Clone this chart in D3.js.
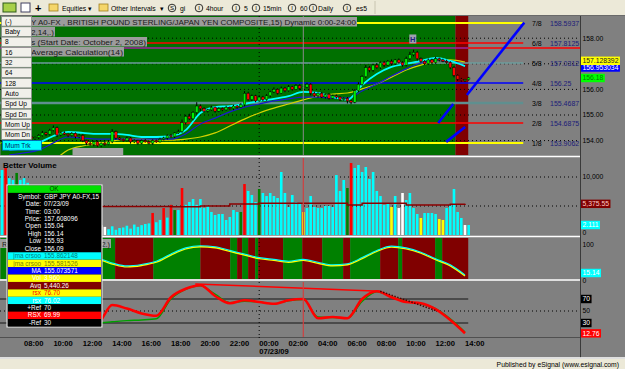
<!DOCTYPE html>
<html>
<head>
<meta charset="utf-8">
<script src="https://cdn.jsdelivr.net/npm/d3@7/dist/d3.min.js"></script>
<style>
  body { margin: 0; background: #808080; overflow: hidden; }
  text { font-family: "Liberation Sans", Arial, sans-serif; }
</style>
</head>
<body>
<svg id="chart" width="625" height="369"></svg>
<script>
// ---------- data (GBP JPY A0-FX, 15 min) ----------
// hour 0 = 07/23/09 00:00, bars start 07/22 06:30
const hours = d3.range(-17, 15);
const timeTicks = d3.range(-16, 15, 2);

const firstOpen = 153.9;
const closes = [
  153.95, 154.02, 153.92, 154.05, 154.0, 154.1, 154.05, 154.15, 154.08, 154.12,
  154.2, 154.3, 154.25, 154.4, 154.5, 154.22,
  154.3, 154.25, 154.2, 154.28, 154.15, 154.2,
  154.0, 153.9, 153.85, 153.95, 153.8, 153.9, 153.85, 153.95,
  154.35,
  154.1, 154.05, 154.0, 154.1, 153.95, 154.0, 153.9, 154.0, 153.95, 153.9, 154.0, 153.95, 154.05,
  154.1, 154.2, 154.15, 154.3, 154.35,
  154.7, 154.95, 154.85, 155.1,
  155.35, 155.25, 155.15,
  155.2, 155.3, 155.15, 155.25, 155.2, 155.3, 155.25,
  155.35, 155.3, 155.4,
  155.85,
  155.6, 155.75, 155.55, 155.7, 155.6, 155.75,
  155.9, 156.0, 155.85, 156.05, 155.95, 156.1, 156.0, 156.15,
  156.04, 156.09, 156.2, 155.85,
  155.75, 155.85, 155.7, 155.8, 155.65, 155.75, 155.7, 155.6, 155.65, 155.55,
  155.5,
  155.95, 156.2, 156.5,
  156.85, 156.75,
  156.95, 156.85, 157.05, 156.95, 157.1, 157.0, 157.15, 157.05, 156.95, 157.2,
  157.35, 157.45, 157.2,
  157.1, 157.0, 157.15, 157.05, 157.2, 157.15, 157.1, 157.05,
  156.85, 156.55, 156.4, 156.35, 156.38, 156.45
];
// wick lengths in pips above / below the body
const wickHi = [6,4,5,8,3,6,4,7,5,4, 5,8,4,6,9,5, 4,6,3,5,4,6, 5,3,6,4,5,3,6,4, 10,
  4,5,3,6,4,5,3,4,6,3,5,4,6, 5,4,6,3,8, 12,6,10,5, 15,6,5, 4,6,3,5,4,6,3, 5,4,6, 8,
  6,5,4,7,5,6, 5,8,4,6,5,7,4,6, 5,5,6,4, 6,4,5,3,6,4,5,3,4,5, 4, 6,8,5, 10,6,
  5,8,4,6,5,7,4,6,5,8, 12,10,6, 5,4,6,5,7,4,5,6, 5,6,4,5,3,4];
const wickLo = [4,6,5,3,7,4,6,3,5,6, 6,4,7,5,4,8, 5,3,6,4,7,5, 6,8,5,7,4,6,5,3, 5,
  6,3,5,4,7,5,6,4,3,5,6,4,3, 4,6,3,5,4, 5,8,4,6, 6,9,5, 5,3,6,4,5,3,4, 6,5,3, 6,
  4,6,5,3,6,4, 6,4,5,3,6,4,5,3, 6,5,4,8, 5,7,4,6,5,3,6,5,4,10, 8, 4,5,6, 5,8,
  6,4,5,7,3,6,5,4,6,5, 5,6,8, 6,5,4,7,5,6,4,5, 6,8,7,5,6,4];

// moving averages, hourly
const jmaFast = [153.63,153.71,153.91,154.18,154.34,154.30,154.26,154.26,154.22,154.14,154.14,154.18,
  154.41,155.08,155.31,155.35,155.43,155.55,155.63,155.74,155.90,155.86,155.70,155.59,156.17,156.60,
  156.88,157.00,157.11,157.23,157.11,156.91];
const maBlue = [153.44,153.52,153.63,153.91,154.14,154.10,154.06,154.06,154.06,154.06,154.06,154.06,
  154.26,154.65,154.88,155.12,155.31,155.43,155.55,155.63,155.70,155.70,155.66,155.66,155.94,156.21,
  156.52,156.80,157.03,157.11,157.11,156.91];
const jmaSlow = [152.9,153.0,153.1,153.24,153.63,153.79,153.87,153.98,154.06,154.06,154.02,154.02,
  154.06,154.14,154.30,154.57,154.84,155.08,155.27,155.43,155.59,155.74,155.82,155.86,156.02,156.21,
  156.48,156.76,156.95,157.07,157.15,157.07];

// Murrey math levels
const murreyLabels = ['7/8', '6/8', '5/8', '4/8', '3/8', '2/8', '1/8'];
const murreyLevels = [158.5937, 157.8125, 157.0312, 156.25, 155.4687, 154.6875, 153.9062];
const murreyText = ['158.5937', '157.8125', '157.0312', '156.25', '155.4687', '154.6875', '153.9062'];
const murreyColors = ['#ffff00', '#ff0000', '#6d9c9c', '#0000ff', '#5f8f8f', '#ff0000', '#ffff00'];
const murreyWidths = [2, 1.5, 1.5, 1.5, 2.5, 1.5, 2];
const priceTicks = [154, 155, 156, 158];
// projected channel segments [hour, price, hour, price]
const channel = [[14.13, 155.78, 18.03, 158.61], [12.18, 154.69, 13.2, 155.43], [12.72, 153.95, 14.01, 154.53]];

// Better Volume
const volumes = [11200, 11550, 9800, 9500, 10700, 9500, 9800, 9000,
  6500, 5200, 4800, 7000, 5500, 6200, 8000, 4500, 5000, 3800, 4200, 5600, 3500, 4000, 3300, 4700, 3000, 3600, 2800,
  1700, 1400, 1000, 1500, 900, 1200, 1300, 1600, 1100, 1800, 1400, 1700, 1900, 2000, 3800, 2200, 2600, 4650,
  3000, 5200, 4300, 4300, 8100, 5200, 5700, 6200, 5200,
  6200, 4650, 5000, 3970, 3450, 3620, 3620, 2590, 3100, 4310, 3970, 3970, 8790, 7590, 6900, 5690, 7930,
  7240, 6720, 7240, 6720, 6380, 10860, 7240, 4830, 6900, 5690, 5520, 3960, 4650, 6720, 4830, 4650, 4650,
  5000, 5000, 4830, 10340, 7590, 9480, 8100, 12410, 11550, 12070, 10860, 11720, 9650, 10860, 7590, 6720,
  5170, 5520, 4830, 6720, 4650, 7240, 6030, 7240, 4650, 3620, 2930, 3790, 3790, 3790, 3620, 2760, 2590,
  4650, 5170, 7930, 3970, 2930, 1720, 1720];
const volColors = 'crccgccc' + 'ccrccgcccrccccgcccc' + 'wwccccccccccccrccrcrgcrcccc' +
  'ccccccccccc' + 'g' + 'r' + 'ccc' + 'g' + 'ccccccccccc' + 'y' + 'ccccccccccc' + 'g' + 'r' +
  'cccccccccc' + 'y' + 'c' + 'ww' + 'cccc' + 'y' + 'cccc' + 'yy' + 'ccccc' + 'w' + 'c';
const volAvg = [4900,4900,4900,4900,4900,4900,4900,4900,4900,4900,4900,4850,4850,5000,5000,5350,5350,
  5470,5470,5470,5470,5470,5470,5170,5470,5470,5470,5170,5170,5170,5300,5375];

// RSX crossover pane (hourly) and band states
const midVals = [60,70,75,70,60,55,62,50,42,46,55,75,92,98,95,85,75,65,60,55,60,52,45,48,65,85,97,92,80,62,45,17];
const midBandEdges = [-17.6, -9.8, -7.2, -4.0, -1.97, -1.5, -1.16, -0.75, -0.27, -0.07, 1.63, 2.93,
  4.29, 5.71, 6.19, 8.23, 9.46, 9.73, 11.97, 12.45, 14.22];

// RSX pane (hourly)
const rsxVals = [40,58,62,55,45,38,30,60,54,46,42,73,87,93,75,63,68,65,62,68,70,38,40,38,70,83,73,65,63,53,35,13];
const rsxSlow = [38,50,55,52,45,38,30,32,34,35,37,70,86,92,78,64,66,65,62,67,69,40,39,38,66,82,74,66,62,54,37,15];
const rsxTrend = [[-4.35, 95, 8.23, 83]];
const rsxTrendDot = [[8.23, 83, 12.1, 50]];

// data window
const dwRows = [
  ['OK', '', '#00e000', '#004000'],
  ['Symbol:', 'GBP JPY A0-FX,15', '#000', '#fff'],
  ['Date:', '07/23/09', '#000', '#fff'],
  ['Time:', '03:00', '#000', '#fff'],
  ['Price:', '157.608096', '#000', '#fff'],
  ['Open', '155.04', '#000', '#fff'],
  ['High', '156.14', '#000', '#fff'],
  ['Low', '155.93', '#000', '#fff'],
  ['Close', '156.09', '#000', '#fff'],
  ['jma crsoo', '155.862148', '#00ffff', '#008080'],
  ['jma crsoo', '155.581526', '#ffff00', '#808000'],
  ['MA', '155.073571', '#0000ff', '#ffffff'],
  ['Vol', '3,960', '#ffff00', '#ffffff'],
  ['Avg', '5,440.26', '#800000', '#ffffff'],
  ['rsx', '76.70', '#ffff00', '#ff0000'],
  ['rsx', '76.02', '#00ffff', '#ffffff'],
  ['+Ref', '70', '#000000', '#ffffff'],
  ['RSX', '69.99', '#ff0000', '#ffffff'],
  ['-Ref', '30', '#000000', '#ffffff']
];
const buttons = ['(-)', 'Baby', '8', '16', '32', '64', '128', 'Auto', 'Spd Up', 'Spd Dn', 'Mom Up', 'Mom Dn'];

// ---------- layout ----------
const svg = d3.select('#chart');
const AX = 580;
const P = { top: 16, bot: 155 }, V = { top: 158, bot: 235 }, M = { top: 238, bot: 279 }, R = { top: 282, bot: 337 };
const GREEN = '#007000', DRED = '#800000';

const base = new Date(2009, 6, 23, 0, 0).getTime();
const at = h => new Date(base + h * 36e5);
const x = d3.scaleTime().domain([at(-16), at(14)]).range([24, 465]);
const xh = h => x(at(h));
const yP = d3.scaleLinear().domain([154, 158]).range([140.6, 38.2]);
const yV = d3.scaleLinear().domain([0, 10000]).range([235, 177]);
const yM = d3.scaleLinear().domain([0, 100]).range([281, 245]);
const yR = d3.scaleLinear().domain([0, 100]).range([341, 281]);

const defs = svg.append('defs');
function clip(id, p) {
  defs.append('clipPath').attr('id', id).append('rect')
    .attr('x', 0).attr('y', p.top).attr('width', AX).attr('height', p.bot - p.top);
  return svg.append('g').attr('clip-path', `url(#${id})`);
}
function hline(g, y, x0, x1, color, w, dash) {
  g.append('line').attr('x1', x0).attr('x2', x1).attr('y1', y).attr('y2', y)
    .attr('stroke', color).attr('stroke-width', w || 1).attr('stroke-dasharray', dash || null);
}
function vline(g, xx, y0, y1, color, w, dash) {
  g.append('line').attr('x1', xx).attr('x2', xx).attr('y1', y0).attr('y2', y1)
    .attr('stroke', color).attr('stroke-width', w || 1).attr('stroke-dasharray', dash || null);
}
function label(g, txt, xx, y, bg, fg, size) {
  size = size || 6.8;
  const t = g.append('text').attr('x', xx + 1.5).attr('y', y + size * 0.36)
    .attr('font-size', size).attr('fill', fg || '#000').text(txt);
  if (bg) {
    const w = t.node().getComputedTextLength() + 3;
    g.insert('rect', () => t.node()).attr('x', xx).attr('y', y - size * 0.62)
      .attr('width', w).attr('height', size * 1.24).attr('fill', bg);
  }
}

svg.append('rect').attr('width', 625).attr('height', 369).attr('fill', '#808080');

// ---------- price pane ----------
const gp = clip('cp', P);
gp.append('rect').attr('x', xh(-17.6)).attr('y', P.top).attr('width', xh(13.35) - xh(-17.6))
  .attr('height', P.bot - P.top).attr('fill', GREEN);
gp.append('rect').attr('x', xh(13.35)).attr('y', P.top).attr('width', xh(14.22) - xh(13.35))
  .attr('height', P.bot - P.top).attr('fill', DRED);
[154, 155, 156, 157, 158].forEach(p => hline(gp, yP(p), 0, AX, '#000', 1, '1,3'));
vline(gp, xh(0), P.top, P.bot, '#000', 1, '1,3');

murreyLevels.forEach((p, i) => {
  hline(gp, yP(p), 0, xh(17.96), murreyColors[i], murreyWidths[i]);
  gp.append('text').attr('x', 532).attr('y', yP(p) + 2.5).attr('font-size', 7).attr('fill', '#000').text(murreyLabels[i]);
  gp.append('text').attr('x', 550).attr('y', yP(p) + 2.5).attr('font-size', 7).attr('fill', '#1c1c78').text(murreyText[i]);
});
hline(gp, yP(157.62), 0, xh(14.22), '#a020a0', 1.5);
hline(gp, yP(157.62), xh(14.22), AX, '#ff0000', 1.5);

const lineP = d3.line().x((d, i) => xh(hours[i])).y(d => yP(d)).curve(d3.curveMonotoneX);
gp.append('path').datum(jmaSlow).attr('d', lineP).attr('fill', 'none').attr('stroke', '#d2d200').attr('stroke-width', 1.2);
gp.append('path').datum(maBlue).attr('d', lineP).attr('fill', 'none').attr('stroke', '#1a1ad0').attr('stroke-width', 1.2);
gp.append('path').datum(jmaFast).attr('d', lineP).attr('fill', 'none').attr('stroke', '#00ffff').attr('stroke-width', 1.8);

const bars = closes.map((c, i) => {
  const o = i ? closes[i - 1] : firstOpen;
  return { h: -17.5 + i * 0.25, o, c, hi: Math.max(o, c) + wickHi[i] / 100, lo: Math.min(o, c) - wickLo[i] / 100 };
});
const cg = gp.append('g');
cg.selectAll('line').data(bars).join('line')
  .attr('x1', d => xh(d.h)).attr('x2', d => xh(d.h))
  .attr('y1', d => yP(d.hi)).attr('y2', d => yP(d.lo)).attr('stroke', '#000').attr('stroke-width', 1);
cg.selectAll('rect').data(bars).join('rect')
  .attr('x', d => xh(d.h) - 1.3).attr('width', 2.6)
  .attr('y', d => yP(Math.max(d.o, d.c)))
  .attr('height', d => Math.max(1, Math.abs(yP(d.o) - yP(d.c))))
  .attr('fill', d => d.c >= d.o ? '#00ee00' : '#ff0000').attr('stroke', '#000').attr('stroke-width', 0.4);

channel.forEach(s => gp.append('line')
  .attr('x1', xh(s[0])).attr('y1', yP(s[1])).attr('x2', xh(s[2])).attr('y2', yP(s[3]))
  .attr('stroke', '#0000ff').attr('stroke-width', 2.6));

// high marker
gp.append('rect').attr('x', xh(10.45) - 3.5).attr('y', yP(157.97) - 4.5).attr('width', 7).attr('height', 9).attr('fill', '#a0a0b0');
gp.append('text').attr('x', xh(10.45)).attr('y', yP(157.97) + 3).attr('text-anchor', 'middle')
  .attr('font-size', 7.5).attr('font-weight', 'bold').attr('fill', '#202080').text('H');
vline(gp, xh(3), P.top, P.bot, '#8a8a8a', 1);
gp.append('rect').attr('x', xh(-12.7)).attr('y', 148).attr('width', xh(-9.25) - xh(-12.7)).attr('height', 8).attr('fill', '#a4a4a4');

// title boxes
const titles = [
  ['Y A0-FX , BRITISH POUND STERLING/JAPAN YEN COMPOSITE,15) Dynamic 0:00-24:00', 17, 357],
  ['2,14,.)', 27, 55],
  ['s (Start Date: October 2, 2008)', 37, 147],
  ['Average Calculation(14)', 47, 124]
];
titles.forEach(t => {
  gp.append('rect').attr('x', 30).attr('y', t[1]).attr('width', t[2] - 30).attr('height', 9.5).attr('fill', '#9c9c9c');
  gp.append('text').attr('x', 31).attr('y', t[1] + 7.8).attr('font-size', 7.4)
    .attr('font-family', 'DejaVu Sans').attr('fill', '#1a1a1a')
    .attr('textLength', t[2] - 32).attr('lengthAdjust', 'spacingAndGlyphs').text(t[0]);
});

// ---------- volume pane ----------
const gv = clip('cv', V);
[5000, 10000].forEach(v => hline(gv, yV(v), 0, AX, '#000', 1, '1,3'));
vline(gv, xh(0), V.top, V.bot, '#000', 1, '1,3');
const volCol = { c: '#00ffff', r: '#ff0000', g: '#008000', y: '#ffff00', w: '#ffffff' };
gv.selectAll('rect.v').data(volumes).join('rect').attr('class', 'v')
  .attr('x', (d, i) => xh(-17.5 + i * 0.25) - 1.3).attr('width', 2.6)
  .attr('y', d => yV(d)).attr('height', d => yV(0) - yV(d))
  .attr('fill', (d, i) => volCol[volColors[i]]);
gv.append('path').datum(volAvg)
  .attr('d', d3.line().x((d, i) => xh(hours[i])).y(d => yV(d)).curve(d3.curveStepAfter))
  .attr('fill', 'none').attr('stroke', '#8b0000').attr('stroke-width', 1.5);
vline(gv, xh(3), V.top, V.bot, '#d04040', 1.2);
gv.append('text').attr('x', 3).attr('y', 168).attr('font-size', 8).attr('font-weight', 'bold').attr('fill', '#000').text('Better Volume');

// ---------- RSX crossover pane ----------
const gm = clip('cm', M);
midBandEdges.slice(0, -1).forEach((e, i) => {
  gm.append('rect').attr('x', xh(e)).attr('y', M.top).attr('width', xh(midBandEdges[i + 1]) - xh(e))
    .attr('height', M.bot - M.top).attr('fill', i % 2 ? DRED : '#008000');
});
vline(gm, xh(0), M.top, M.bot, '#000', 1, '1,3');
const lineM = d3.line().x((d, i) => xh(hours[i])).y(d => yM(d)).curve(d3.curveMonotoneX);
gm.append('path').datum(midVals).attr('d', lineM).attr('fill', 'none').attr('stroke', '#ffff00').attr('stroke-width', 1.4).attr('transform', 'translate(0,1)');
gm.append('path').datum(midVals).attr('d', lineM).attr('fill', 'none').attr('stroke', '#00ffff').attr('stroke-width', 1.1);
// pane title: only its two ends show beside the data window
gm.append('rect').attr('x', 0).attr('y', 239).attr('width', 111).attr('height', 9).attr('fill', '#9c9c9c');
gm.append('text').attr('x', 2).attr('y', 246.5).attr('font-size', 7.4).attr('font-family', 'DejaVu Sans').attr('fill', '#1a1a1a').text('R');
gm.append('text').attr('x', 110).attr('y', 246.5).attr('text-anchor', 'end').attr('font-size', 7.4)
  .attr('font-family', 'DejaVu Sans').attr('fill', '#1a1a1a').text('2.)');

// ---------- RSX pane ----------
const gr = clip('cr', R);
hline(gr, yR(70), 0, xh(14.22), '#4a4a4a', 2);
hline(gr, yR(30), 0, xh(14.22), '#4a4a4a', 2);
hline(gr, yR(50), 0, AX, '#000', 1, '1,3');
vline(gr, xh(0), R.top, R.bot, '#000', 1, '1,3');
const lineR = d3.line().x((d, i) => xh(hours[i])).y(d => yR(d)).curve(d3.curveMonotoneX);
gr.append('path').datum(rsxSlow).attr('d', lineR).attr('fill', 'none').attr('stroke', '#00a000').attr('stroke-width', 1.4);
gr.append('path').datum(rsxVals).attr('d', lineR).attr('fill', 'none').attr('stroke', '#ff0000').attr('stroke-width', 2.6);
rsxTrend.forEach(s => gr.append('line').attr('x1', xh(s[0])).attr('y1', yR(s[1])).attr('x2', xh(s[2])).attr('y2', yR(s[3]))
  .attr('stroke', '#ff0000').attr('stroke-width', 1.5));
rsxTrendDot.forEach(s => gr.append('line').attr('x1', xh(s[0])).attr('y1', yR(s[1])).attr('x2', xh(s[2])).attr('y2', yR(s[3]))
  .attr('stroke', '#500000').attr('stroke-width', 1.5).attr('stroke-dasharray', '1.5,1.5'));
vline(gr, xh(3), R.top, R.bot, '#d04040', 1.2);

// ---------- separators, time axis ----------
[156.5, 236.5, 280].forEach(y => hline(svg, y, 0, AX, '#ffffff', 1.6));
hline(svg, R.bot + 0.5, 0, AX, '#505050', 1);
vline(svg, xh(0), R.bot, 340, '#000', 1, '1,2');
const ta = svg.append('g');
timeTicks.forEach(h => {
  const hh = ((h % 24) + 24) % 24;
  ta.append('text').attr('x', xh(h)).attr('y', 346).attr('font-size', 7.6).attr('font-weight', 'bold')
    .attr('fill', '#000').text(String(hh).padStart(2, '0') + ':00');
});
ta.append('text').attr('x', xh(0)).attr('y', 354).attr('font-size', 7.6).attr('font-weight', 'bold').attr('fill', '#000').text('07/23/09');

// ---------- right axis ----------
vline(svg, AX + 0.5, P.top, 358, '#3a3a3a', 1);
const ra = svg.append('g');
priceTicks.forEach(p => label(ra, p.toFixed(2), 581, yP(p)));
label(ra, '156.953034', 581, 67.5, '#0000ff', '#ffffff');
label(ra, '157.128392', 581, 60.8, '#ffff00', '#202020');
label(ra, '156.18', 581, 78, '#00ff00', '#008000');
label(ra, '10,000', 581, yV(10000));
label(ra, '5,375.55', 581, yV(5375.55), '#800000', '#ffc8c8');
label(ra, '2.111', 581, 225, '#00ffff', '#ffffff');
label(ra, '0', 581, 232.5);
label(ra, '100', 581, yM(100));
label(ra, '15.14', 581, 273, '#00ffff', '#ffffff');
label(ra, '0', 581, 280.5);
label(ra, '70', 581, yR(70), '#000000', '#ffffff');
label(ra, '50', 581, yR(50));
label(ra, '30', 581, yR(30), '#000000', '#ffffff');
label(ra, '12.76', 581, yR(12.76), '#ff0000', '#ffffff');

// ---------- left buttons ----------
const gb = svg.append('g');
buttons.forEach((b, i) => {
  const y = 16.5 + i * 10.3;
  gb.append('rect').attr('x', 1.5).attr('y', y).attr('width', 30).attr('height', 9.6)
    .attr('fill', '#f1f0ea').attr('stroke', '#8c8c8c').attr('stroke-width', 0.8);
  gb.append('text').attr('x', 5).attr('y', y + 7.3).attr('font-size', 6.6).attr('fill', '#000').text(b);
});
gb.append('rect').attr('x', 2.5).attr('y', 140.6).attr('width', 39).attr('height', 9.6)
  .attr('fill', '#00ffff').attr('stroke', '#0060c0').attr('stroke-width', 0.8);
gb.append('text').attr('x', 5).attr('y', 147.9).attr('font-size', 6.6).attr('fill', '#002060').text('Mum Trk');

// ---------- data window ----------
const dw = svg.append('g');
const rowH = 7.42;
dw.append('rect').attr('x', 7).attr('y', 185).attr('width', 95).attr('height', rowH * dwRows.length + 1)
  .attr('fill', '#000').attr('stroke', '#e0e0e0').attr('stroke-width', 1.2);
dwRows.forEach((r, i) => {
  const y = 185.5 + i * rowH;
  dw.append('rect').attr('x', 8).attr('y', y).attr('width', 93).attr('height', rowH).attr('fill', r[2]);
  if (i === 0) {
    dw.append('text').attr('x', 54).attr('y', y + 5.8).attr('text-anchor', 'middle').attr('font-size', 6.4).attr('fill', r[3]).text(r[0]);
  } else {
    dw.append('text').attr('x', 41).attr('y', y + 5.8).attr('text-anchor', 'end').attr('font-size', 6.4).attr('fill', r[3]).text(r[0]);
    dw.append('text').attr('x', 44).attr('y', y + 5.8).attr('font-size', 6.4).attr('fill', r[3]).text(r[1]);
  }
});

// ---------- toolbar and status bar ----------
const tb = svg.append('g');
tb.append('rect').attr('width', 625).attr('height', 15.5).attr('fill', '#ece9d8');
hline(tb, 15.5, 0, 625, '#6a6a6a', 1);
vline(tb, 375, 1, 14, '#c8c4b0', 1);
tb.append('rect').attr('x', 3).attr('y', 3).attr('width', 13).attr('height', 9).attr('fill', '#a8d048').attr('stroke', '#2d5a1a');
tb.append('rect').attr('x', 21).attr('y', 3).attr('width', 9).attr('height', 9).attr('fill', '#ffffff').attr('stroke', '#404060');
tb.append('text').attr('x', 35).attr('y', 11.5).attr('font-size', 11).attr('font-weight', 'bold').text('+');
[49, 99].forEach(fx => tb.append('rect').attr('x', fx).attr('y', 4).attr('width', 9).attr('height', 7)
  .attr('fill', '#f5d66a').attr('stroke', '#a08020').attr('stroke-width', 0.8));
const tbText = [['Equities', 62], ['▾', 88], ['Other Intervals', 111], ['▾', 160], ['gi', 180], ['4hour', 206],
  ['5', 244], ['15min', 263], ['60', 300], ['Daily', 318], ['es5', 356]];
tbText.forEach(t => tb.append('text').attr('x', t[1]).attr('y', 10.5).attr('font-size', 6.8).attr('fill', '#000').text(t[0]));
[['S', 172], ['I', 199], ['I', 236], ['I', 256], ['I', 292], ['I', 313], ['I', 347]].forEach(c => {
  tb.append('circle').attr('cx', c[1]).attr('cy', 8).attr('r', 3.8).attr('fill', 'none').attr('stroke', '#000').attr('stroke-width', 0.8);
  tb.append('text').attr('x', c[1]).attr('y', 10.3).attr('text-anchor', 'middle').attr('font-size', 6).text(c[0]);
});

hline(svg, 358, 0, 625, '#ffffff', 1.5);
svg.append('rect').attr('x', 0).attr('y', 359).attr('width', 625).attr('height', 10).attr('fill', '#ece9d8');
svg.append('text').attr('x', 619).attr('y', 366.5).attr('text-anchor', 'end').attr('font-size', 6.8).attr('fill', '#000')
  .text('Published by eSignal (www.esignal.com)');
</script>
</body>
</html>
